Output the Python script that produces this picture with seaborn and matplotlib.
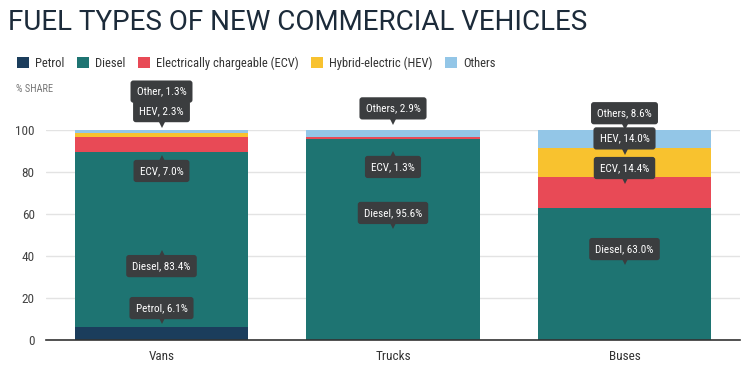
import matplotlib
matplotlib.use("Agg")
import matplotlib.pyplot as plt
import seaborn as sns
import pandas as pd
import numpy as np
from matplotlib.patches import Patch
from matplotlib import font_manager

# ---- data ----
categories = ["Vans", "Trucks", "Buses"]
fuel_types = ["Petrol", "Diesel", "Electrically chargeable (ECV)", "Hybrid-electric (HEV)", "Others"]
petrol = [6.1, 0.0, 0.0]
diesel = [83.4, 95.6, 63.0]
ecv = [7.0, 1.3, 14.4]
hev = [2.3, 0.0, 14.0]
others = [1.3, 2.9, 8.6]
yticks = [0, 20, 40, 60, 80, 100]

# tooltip annotations: (category index, text, box centre in value units, pointer direction)
tooltips = [
    (0, "Petrol, 6.1%", 15.2, "down"),
    (0, "Diesel, 83.4%", 35.2, "up"),
    (0, "ECV, 7.0%", 80.5, "up"),
    (0, "Other, 1.3%", 118.3, "none"),
    (0, "HEV, 2.3%", 109.0, "down"),
    (1, "Diesel, 95.6%", 60.5, "down"),
    (1, "ECV, 1.3%", 82.4, "up"),
    (1, "Others, 2.9%", 110.3, "down"),
    (2, "Diesel, 63.0%", 43.3, "down"),
    (2, "ECV, 14.4%", 81.9, "down"),
    (2, "HEV, 14.0%", 96.0, "down"),
    (2, "Others, 8.6%", 108.0, "down"),
]

colors = ["#1b3d5c", "#1e7472", "#e84a56", "#f8c22f", "#93c6e7"]

avail = {f.name for f in font_manager.fontManager.ttflist}
cond = [f for f in ["Roboto Condensed", "Liberation Sans Narrow", "Roboto"] if f in avail]

sns.set_theme(style="white")
plt.rcParams["font.family"] = cond + ["DejaVu Sans"]

fig = plt.figure(figsize=(7.5, 3.75), dpi=100)
ax = fig.add_axes([0.061, 0.0933, 0.926, 0.56])

series = [petrol, diesel, ecv, hev, others]
cum = np.cumsum(np.array(series), axis=0)
# draw from top layer down so lower layers overlap upper ones
for i in range(len(series) - 1, -1, -1):
    df = pd.DataFrame({"cat": categories, "val": cum[i]})
    sns.barplot(data=df, x="cat", y="val", color=colors[i], saturation=1,
                width=0.75, ax=ax, linewidth=0, edgecolor="none", zorder=2)

ax.set_xlim(-0.5, 2.5)
ax.set_ylim(0, 100)
ax.set_yticks(yticks)
ax.set_yticklabels([str(t) for t in yticks])
ax.yaxis.grid(True, color="#e3e3e3", linewidth=1, zorder=0)
ax.set_axisbelow(True)
for s in ["top", "right", "left"]:
    ax.spines[s].set_visible(False)
ax.spines["bottom"].set_color("#333333")
ax.spines["bottom"].set_linewidth(1.2)
ax.spines["bottom"].set_zorder(5)
ax.tick_params(axis="y", length=0, pad=8, labelsize=9.5, labelcolor="#444444")
ax.tick_params(axis="x", length=0, pad=7, labelsize=9.5, labelcolor="#333333")
ax.set_xlabel("")
ax.set_ylabel("")

# tooltips
box_half = 5.0
for k, (ci, txt, yc, d) in enumerate(tooltips):
    z = 10 + k
    ax.text(ci, yc, txt, ha="center", va="center", color="white", fontsize=8,
            clip_on=False, zorder=z,
            bbox=dict(boxstyle="round,pad=0.55,rounding_size=0.25", fc="#3b3d3f", ec="none"))
    if d == "down":
        ax.plot([ci], [yc - box_half - 0.9], marker="v", markersize=5.5, color="#3b3d3f",
                clip_on=False, zorder=z, markeredgewidth=0)
    elif d == "up":
        ax.plot([ci], [yc + box_half + 0.9], marker="^", markersize=5.5, color="#3b3d3f",
                clip_on=False, zorder=z, markeredgewidth=0)

# title, legend, axis caption
fig.text(0.011, 0.94, "FUEL TYPES OF NEW COMMERCIAL VEHICLES", fontsize=20,
         color="#1c2b3a", ha="left", va="center", family=["Roboto", "DejaVu Sans"])
handles = [Patch(facecolor=c, edgecolor="none", label=l) for c, l in zip(colors, fuel_types)]
fig.legend(handles=handles, loc="center left", bbox_to_anchor=(0.016, 0.832), ncol=5,
           frameon=False, fontsize=9, handlelength=0.95, handleheight=0.95,
           handletextpad=0.5, columnspacing=1.0, labelcolor="#333333", borderaxespad=0)
fig.text(0.022, 0.762, "% SHARE", fontsize=7.5, color="#777777", ha="left", va="center")

fig.savefig("out.png", dpi=100, facecolor="white")
